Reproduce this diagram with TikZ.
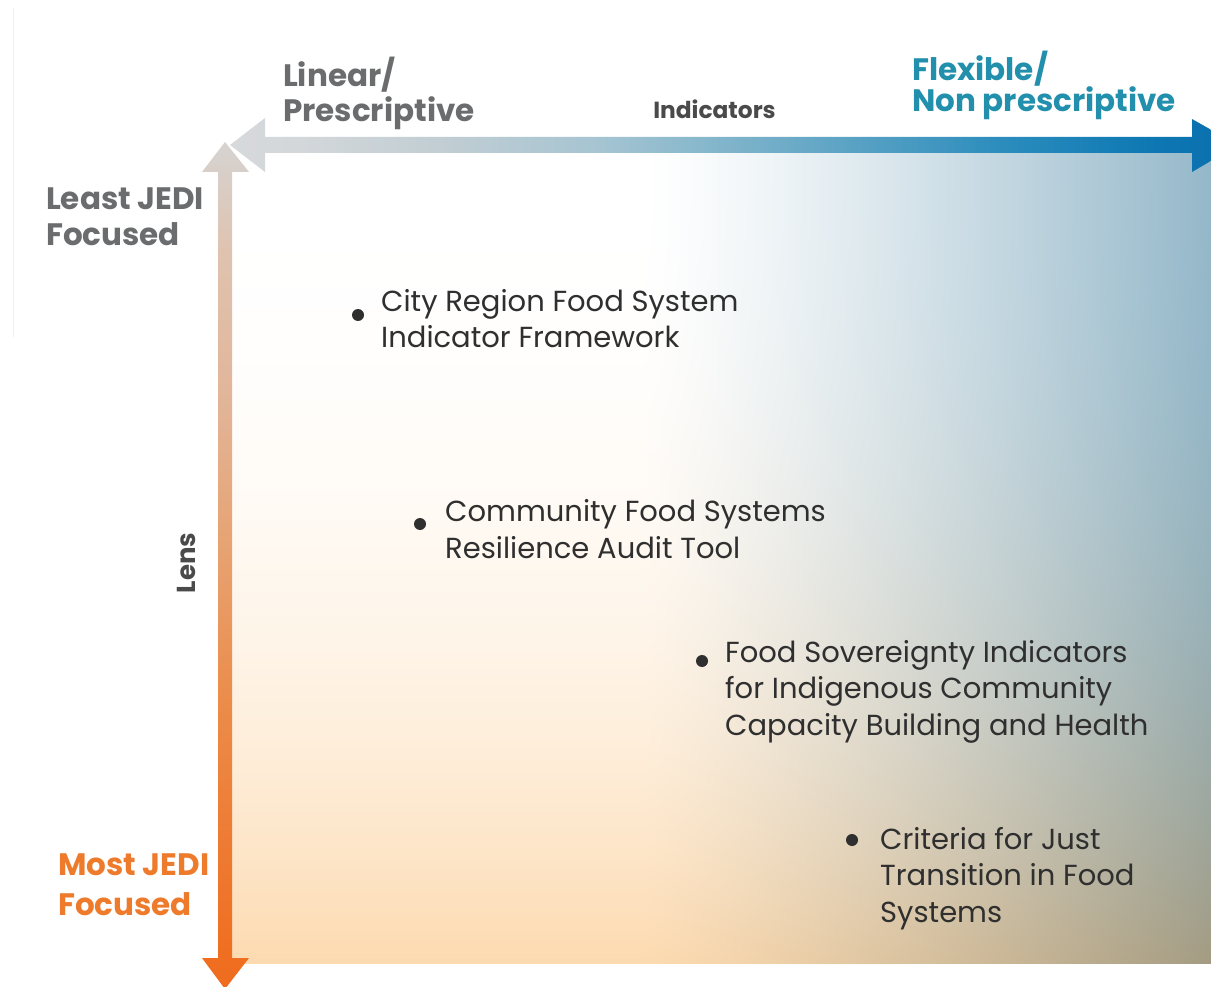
\documentclass[tikz,border=0pt]{standalone}
\usepackage{fontspec}
\setmainfont{Poppins}
\usetikzlibrary{shadings}

% text colours
\definecolor{labelgray}{HTML}{6B6C6E}
\definecolor{flexteal}{HTML}{2290AD}
\definecolor{jediorange}{HTML}{EE7B2C}
\definecolor{axisdark}{HTML}{4A4A4A}
\definecolor{itemdark}{HTML}{2F2F2F}
\definecolor{edgegray}{HTML}{F0F0F0}

% colour stops of the Indicators axis (left to right)
\definecolor{hc0}{HTML}{D7D9DB}
\definecolor{hc1}{HTML}{D3D7DA}
\definecolor{hc2}{HTML}{C0CDD3}
\definecolor{hc3}{HTML}{A5C4D2}
\definecolor{hc4}{HTML}{88B8CC}
\definecolor{hc5}{HTML}{5AA2C4}
\definecolor{hc6}{HTML}{2C8DBD}
\definecolor{hc7}{HTML}{0E78B3}
\definecolor{hc8}{HTML}{0A6EAE}

% colour stops of the Lens axis (bottom to top)
\definecolor{vc0}{HTML}{EF6C1E}
\definecolor{vc1}{HTML}{EF6E20}
\definecolor{vc2}{HTML}{EE7A32}
\definecolor{vc3}{HTML}{EB8C4A}
\definecolor{vc4}{HTML}{E7A271}
\definecolor{vc5}{HTML}{E2B599}
\definecolor{vc6}{HTML}{DFC3B0}
\definecolor{vc7}{HTML}{D6D2CF}

\pgfdeclarehorizontalshading{indicatorsaxis}{100bp}{%
  color(0bp)=(hc0); color(25bp)=(hc0); color(28.5bp)=(hc1);
  color(35.9bp)=(hc2); color(43.4bp)=(hc3); color(48.3bp)=(hc4);
  color(55.8bp)=(hc5); color(63.2bp)=(hc6); color(70.6bp)=(hc7);
  color(75bp)=(hc8); color(100bp)=(hc8)}

\pgfdeclareverticalshading{lensaxis}{100bp}{%
  color(0bp)=(vc0); color(25bp)=(vc0); color(26.7bp)=(vc1);
  color(33.2bp)=(vc2); color(42bp)=(vc3); color(50.9bp)=(vc4);
  color(59.8bp)=(vc5); color(68.6bp)=(vc6); color(74.5bp)=(vc7);
  color(75bp)=(vc7); color(100bp)=(vc7)}

% quadrant background: white top left, blue to the right,
% peach towards the bottom, khaki in the bottom right corner
\pgfdeclarefunctionalshading{quadrantfield}{\pgfpoint{-25bp}{-25bp}}{\pgfpoint{25bp}{25bp}}{}{
  25 add 50 div
  dup abs add 2 div
  dup 1 sub abs neg add 1 add 2 div
  1 exch sub 2.4 exp
  exch 25 add 50 div
  0.42 sub 0.58 div
  dup abs add 2 div
  dup 1 sub abs neg add 1 add 2 div
  1.25 exp
  exch
  1 2 index -0.42 mul add 1 index -0.01 mul add 2 index 2 index mul 0.07 mul add
  1 3 index -0.28 mul add 2 index -0.145 mul add 3 index 3 index mul 0.035 mul add
  1 4 index -0.21 mul add 3 index -0.31 mul add 4 index 4 index mul 0.03 mul add
  5 3 roll pop pop
}

\tikzset{
  boldlabel/.style={inner sep=0pt, anchor=base west, align=left,
    font=\fontsize{31}{35}\selectfont\bfseries},
  axisname/.style={inner sep=0pt, text=axisdark,
    font=\fontsize{23.3}{26}\selectfont\bfseries},
  itemtext/.style={inner sep=0pt, anchor=base west, align=left, text=itemdark,
    font=\fontsize{29}{36.5}\selectfont},
  itemdot/.style={circle, fill=itemdark, inner sep=0pt, minimum size=12pt},
}

\begin{document}
\begin{tikzpicture}[x=1pt, y=-1pt]
  \useasboundingbox (0,0) rectangle (1211,987);
  \clip (0,0) rectangle (1211,987);
  \fill[white] (0,0) rectangle (1211,987);

  % faint edge at the far left
  \draw[edgegray, line width=1pt] (13.5,8) -- (13.5,337);

  % shaded quadrant
  \shade[shading=quadrantfield] (232,153) rectangle (1211,963);

  % Indicators axis: double-headed horizontal arrow
  \shade[shading=indicatorsaxis]
    (230,145) -- (265,118) -- (265,137) -- (1192,137) -- (1192,119)
    -- (1238,145) -- (1192,172) -- (1192,153) -- (265,153) -- (265,172) -- cycle;

  % Lens axis: double-headed vertical arrow
  \shade[shading=lensaxis]
    (225,142) -- (249,172) -- (232,172) -- (232,958) -- (249,958)
    -- (225,989) -- (202,958) -- (218,958) -- (218,172) -- (202,172) -- cycle;

  % axis end labels (anchored at the baseline of their last line)
  \node[boldlabel, text=labelgray] (linear) at (283,122) {Linear/\\Prescriptive};
  \node[boldlabel, text=flexteal, font=\fontsize{31}{31}\selectfont\bfseries]
    (flexible) at (912,112) {Flexible/\\Non prescriptive};
  \node[boldlabel, text=labelgray, font=\fontsize{31}{36}\selectfont\bfseries]
    (least) at (46,246) {Least JEDI\\Focused};
  \node[boldlabel, text=jediorange, font=\fontsize{31}{40}\selectfont\bfseries]
    (most) at (58,915) {Most JEDI\\Focused};

  % axis names
  \node[axisname, anchor=base] (indicators) at (714.5,119) {Indicators};
  \node[axisname, rotate=90, font=\fontsize{26}{30}\selectfont\bfseries]
    (lens) at (186,563) {Lens};

  % frameworks placed in the quadrant
  \node[itemdot] (d1) at (358,315) {};
  \node[itemtext] (t1) at (381,348) {City Region Food System\\Indicator Framework};

  \node[itemdot] (d2) at (420,524) {};
  \node[itemtext] (t2) at (445,558) {Community Food Systems\\Resilience Audit Tool};

  \node[itemdot] (d3) at (702,661) {};
  \node[itemtext] (t3) at (725,735)
    {Food Sovereignty Indicators\\for Indigenous Community\\Capacity Building and Health};

  \node[itemdot] (d4) at (852,840) {};
  \node[itemtext] (t4) at (880,922) {Criteria for Just\\Transition in Food\\Systems};
\end{tikzpicture}
\end{document}
